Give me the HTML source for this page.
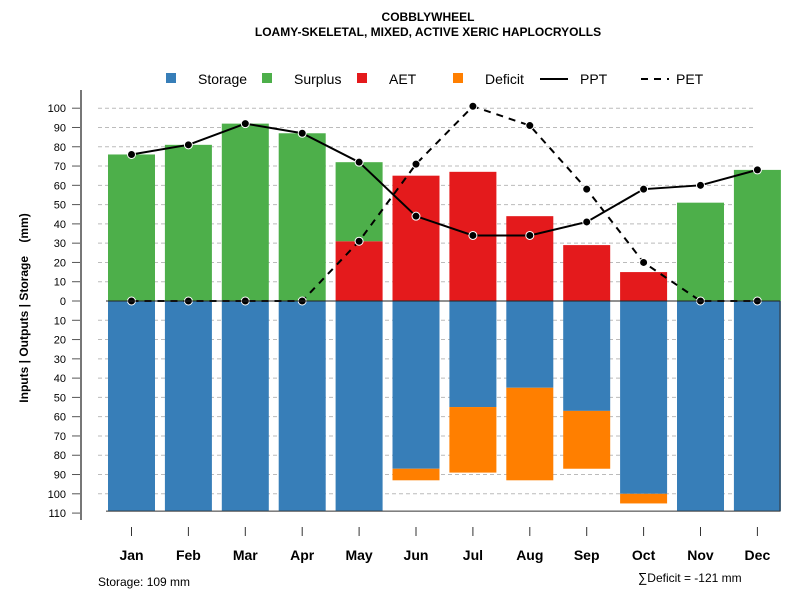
<!DOCTYPE html>
<html><head><meta charset="utf-8"><style>
body{margin:0;background:#fff;font-family:"Liberation Sans",sans-serif}
</style></head><body>
<svg id="chart" width="800" height="600" xmlns="http://www.w3.org/2000/svg" font-family="Liberation Sans, sans-serif">
<text x="428" y="21" text-anchor="middle" font-size="12" font-weight="bold">COBBLYWHEEL</text>
<text x="428" y="36" text-anchor="middle" font-size="12" font-weight="bold">LOAMY-SKELETAL, MIXED, ACTIVE XERIC HAPLOCRYOLLS</text>
<g font-size="14">
<rect x="166" y="73" width="10" height="10" fill="#377EB8"/>
<text x="198" y="84">Storage</text>
<rect x="262" y="73" width="10" height="10" fill="#4DAF4A"/>
<text x="294" y="84">Surplus</text>
<rect x="357" y="73" width="10" height="10" fill="#E41A1C"/>
<text x="389" y="84">AET</text>
<rect x="453" y="73" width="10" height="10" fill="#FF7F00"/>
<text x="485" y="84">Deficit</text>
<line x1="540" y1="79" x2="568" y2="79" stroke="#000" stroke-width="2"/>
<text x="580" y="84">PPT</text>
<line x1="641" y1="79" x2="669" y2="79" stroke="#000" stroke-width="2" stroke-dasharray="7,6"/>
<text x="676" y="84">PET</text>
</g>
<text xml:space="preserve" style="white-space:pre" transform="translate(28,308) rotate(-90)" text-anchor="middle" font-size="12" font-weight="bold">Inputs | Outputs | Storage    (mm)</text>
<g id="grid"></g><g id="bars"></g><g id="lines"></g><g id="axes"></g>
<text x="98" y="586" font-size="12">Storage: 109 mm</text>
<text x="638" y="582" font-size="13">∑<tspan font-size="12">Deficit = -121 mm</tspan></text>
</svg>
<script>
const months=["Jan","Feb","Mar","Apr","May","Jun","Jul","Aug","Sep","Oct","Nov","Dec"];
const storage=[109,109,109,109,109,87,55,45,57,100,109,109];
const deficit=[0,0,0,0,0,6,34,48,30,5,0,0];
const aet=[0,0,0,0,31,65,67,44,29,15,0,0];
const surplus=[76,81,92,87,41,0,0,0,0,0,51,68];
const ppt=[76,81,92,87,72,44,34,34,41,58,60,68];
const pet=[0,0,0,0,31,71,101,91,58,20,0,0];
const yTicks=[100,90,80,70,60,50,40,30,20,10,0,10,20,30,40,50,60,70,80,90,100,110];
const NS="http://www.w3.org/2000/svg";
const y0=301,k=1.928;
const yUp=v=>y0-v*k, yDn=v=>y0+v*k;
const xC=i=>131.5+i*56.9;
const bw=47;
function mk(t,a,p){const e=document.createElementNS(NS,t);for(const q in a)e.setAttribute(q,a[q]);document.getElementById(p).appendChild(e);return e;}
yTicks.forEach((t,i)=>{const y=i<=10?yUp(t):yDn(t);
 if(i!==10&&i!==21){const g=mk("line",{x1:98,x2:756,y1:y,y2:y,stroke:"#bbb","stroke-dasharray":"4,3"},"grid");
 
 }
 const tk=mk("line",{x1:72,x2:81,y1:y,y2:y,stroke:"#555"},"axes");
 
 
 const tx=mk("text",{x:66,y:y+4,"text-anchor":"end","font-size":"11"},"axes");tx.textContent=t;
 
 
});
months.forEach((m,i)=>{const x=xC(i)-bw/2;
 const s=mk("rect",{x:x,y:y0,width:bw,height:storage[i]*k,fill:"#377EB8"},"bars");
 
 
 if(deficit[i]>0){const d=mk("rect",{x:x,y:yDn(storage[i]),width:bw,height:deficit[i]*k,fill:"#FF7F00"},"bars");
 
 }
 if(aet[i]>0){const a=mk("rect",{x:x,y:yUp(aet[i]),width:bw,height:aet[i]*k,fill:"#E41A1C"},"bars");
 
 }
 if(surplus[i]>0){const u=mk("rect",{x:x,y:yUp(aet[i]+surplus[i]),width:bw,height:surplus[i]*k,fill:"#4DAF4A"},"bars");
 
 }
 const tk=mk("line",{x1:xC(i),x2:xC(i),y1:527,y2:536,stroke:"#333"},"axes");
 
 
 const tx=mk("text",{x:xC(i),y:560,"text-anchor":"middle","font-size":"14","font-weight":"bold"},"axes");tx.textContent=m;
 
 
});
const zl=mk("line",{x1:106,x2:780,y1:y0,y2:y0,stroke:"#222"},"axes");


const bl=mk("path",{d:`M106 ${yDn(109)} H780 V${y0}`,fill:"none",stroke:"#333"},"axes");


const ax=mk("line",{x1:81,x2:81,y1:90,y2:520,stroke:"#777","stroke-width":2},"axes");


function series(arr,name,dash){
 const p=mk("polyline",{points:arr.map((v,i)=>xC(i)+","+yUp(v)).join(" "),fill:"none",stroke:"#000","stroke-width":2,"stroke-dasharray":dash},"lines");
 
 
 arr.forEach((v,i)=>{const c=mk("circle",{cx:xC(i),cy:yUp(v),r:4,fill:"#000",stroke:"#fff","stroke-width":1},"lines");
 
 });
}
series(pet,"pet","7,6");
series(ppt,"ppt","none");
</script>
</body></html>
